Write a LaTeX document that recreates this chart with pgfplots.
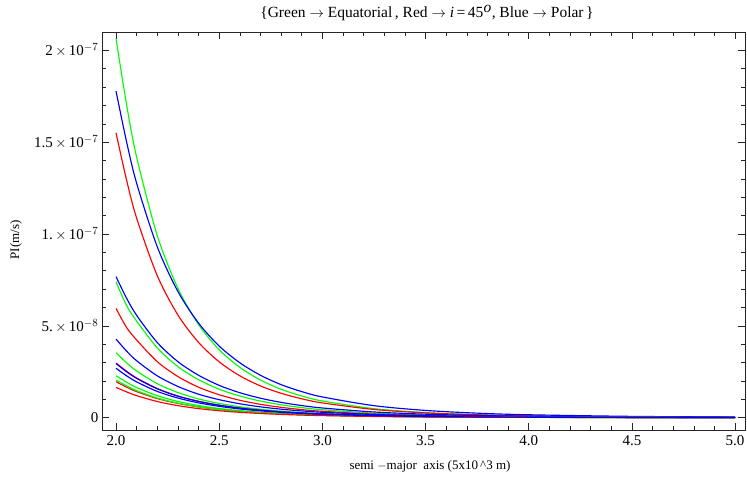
\documentclass[border=0pt]{standalone}
\usepackage{fontspec}
\setmainfont{Liberation Serif}
\usepackage{pgfplots}
\usepackage{pgfplotstable}
\pgfplotsset{compat=1.18}
\pgfplotstableread{
x g1 r1 b1 g2 r2 b2 g3 r3 b3 g4 r4 b4 g5 r5 b5
2.0 206.5 155.1 177.8 74.0 59.5 76.8 35.4 29.8 42.8 22.9 19.6 29.5 20.5 16.5 26.9
2.05 171.2 129.9 150.8 61.3 49.3 65.3 30.0 25.4 36.4 19.4 16.7 25.1 17.4 14.1 22.9
2.1 141.8 108.6 127.6 52.6 42.3 55.7 25.4 21.6 31.0 16.4 14.2 21.4 14.7 12.0 19.5
2.2 99.1 77.3 93.0 38.0 30.5 40.9 18.5 15.9 22.8 12.0 10.4 15.7 10.7 8.80 14.3
2.3 70.4 55.9 68.7 27.8 22.4 30.5 13.7 11.8 17.0 8.85 7.79 11.7 7.93 6.56 10.7
2.4 50.7 41.0 51.5 20.7 16.6 23.1 10.2 8.95 12.8 6.63 5.88 8.86 5.93 4.95 8.08
2.5 37.0 30.4 39.0 15.5 12.5 17.6 7.76 6.83 9.81 5.02 4.49 6.76 4.50 3.78 6.17
2.6 27.4 22.8 29.9 11.8 9.48 13.6 5.95 5.27 7.58 3.85 3.47 5.22 3.44 2.92 4.76
2.7 20.5 17.3 23.1 9.06 7.28 10.6 4.60 4.11 5.91 2.97 2.70 4.07 2.66 2.28 3.71
2.8 15.5 13.3 18.0 7.02 5.64 8.33 3.59 3.23 4.64 2.32 2.13 3.20 2.08 1.79 2.92
2.9 11.8 10.3 14.2 5.49 4.41 6.61 2.83 2.57 3.68 1.83 1.69 2.54 1.64 1.42 2.32
3.0 9.10 8.04 11.3 4.33 3.48 5.29 2.25 2.05 2.95 1.45 1.35 2.03 1.30 1.14 1.85
3.25 4.91 4.48 6.55 2.47 1.99 3.12 1.30 1.21 1.74 0.84 0.80 1.20 0.76 0.67 1.09
3.5 2.78 2.61 3.96 1.47 1.18 1.91 0.79 0.74 1.06 0.51 0.49 0.73 0.46 0.41 0.67
3.75 1.63 1.58 2.47 0.91 0.73 1.21 0.49 0.47 0.68 0.32 0.31 0.47 0.29 0.26 0.42
4.0 0.99 0.98 1.60 0.58 0.46 0.79 0.32 0.31 0.44 0.21 0.20 0.30 0.18 0.17 0.28
4.5 0.40 0.42 0.72 0.25 0.20 0.36 0.14 0.14 0.20 0.09 0.09 0.14 0.08 0.08 0.13
5.0 0.18 0.19 0.35 0.12 0.10 0.18 0.07 0.07 0.10 0.05 0.05 0.07 0.04 0.04 0.06
}\datatable
\definecolor{mgreen}{rgb}{0,1,0}
\definecolor{mred}{rgb}{1,0,0}
\definecolor{mblue}{rgb}{0,0,1}
\begin{document}
\begin{tikzpicture}
\path[use as bounding box] (-102pt,-47pt) rectangle (645pt,430pt);
\begin{axis}[
  at={(0pt,0pt)}, anchor=south west,
  scale only axis, width=643pt, height=398pt,
  xmin=1.932, xmax=5.048, ymin=-6.7, ymax=210,
  axis line style={line width=0.8pt, black!85},
  xtick={2,2.5,3,3.5,4,4.5,5},
  xticklabels={2.0,2.5,3.0,3.5,4.0,4.5,5.0},
  ytick={0,50,100,150,200},
  yticklabels={0, 5.\,$\times$\,10$^{-8}$, 1.\,$\times$\,10$^{-7}$, 1.5\,$\times$\,10$^{-7}$, 2\,$\times$\,10$^{-7}$},
  minor x tick num=4, minor y tick num=4,
  tick align=inside, major tick length=7pt, minor tick length=4pt,
  every tick/.style={black!85, line width=0.6pt},
  tick label style={font=\fontsize{15}{17}\selectfont},
  xticklabel style={yshift=-2pt},
  every axis plot/.append style={line width=1.15pt, smooth, no markers},
]
\addplot[mgreen] table[x=x,y=g1]{\datatable};
\addplot[mred] table[x=x,y=r1]{\datatable};
\addplot[mblue] table[x=x,y=b1]{\datatable};
\addplot[mgreen] table[x=x,y=g2]{\datatable};
\addplot[mred] table[x=x,y=r2]{\datatable};
\addplot[mblue] table[x=x,y=b2]{\datatable};
\addplot[mgreen] table[x=x,y=g3]{\datatable};
\addplot[mred] table[x=x,y=r3]{\datatable};
\addplot[mblue] table[x=x,y=b3]{\datatable};
\addplot[mgreen] table[x=x,y=g4]{\datatable};
\addplot[mred] table[x=x,y=r4]{\datatable};
\addplot[mblue] table[x=x,y=b4]{\datatable};
\addplot[mgreen] table[x=x,y=g5]{\datatable};
\addplot[mred] table[x=x,y=r5]{\datatable};
\addplot[mblue] table[x=x,y=b5]{\datatable};
\end{axis}
\node[font=\fontsize{15.5}{18}\selectfont] at (325pt,417pt) {\{Green $\rightarrow$ Equatorial\,, Red $\rightarrow$ \textit{i}\,=\,45$^{\textit{o}}$, Blue $\rightarrow$ Polar\,\}};
\node[font=\fontsize{13}{15}\selectfont] at (328pt,-36pt) {semi $-$major\enspace axis (5x10\,\textasciicircum3 m)};
\node[font=\fontsize{13}{15}\selectfont, rotate=90] at (-86pt,190pt) {PI(m/s)};
\end{tikzpicture}
\end{document}
